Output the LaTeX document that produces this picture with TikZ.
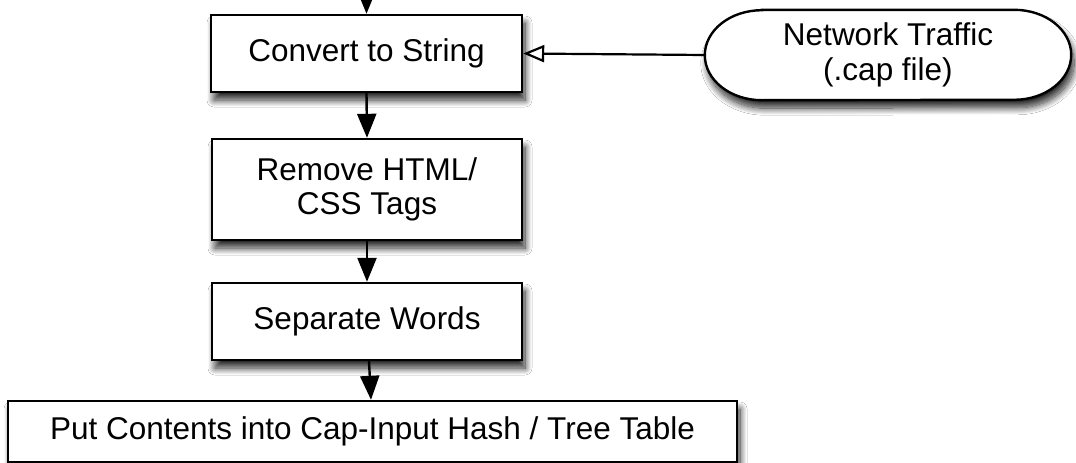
\documentclass[tikz,border=0pt]{standalone}
\usepackage{fontspec}
\setmainfont{Liberation Sans}
\usetikzlibrary{arrows.meta,shadows.blur}
\begin{document}
\begin{tikzpicture}[x=1pt,y=-1pt,
  shad/.style={blur shadow={shadow xshift=3pt, shadow yshift=-8pt, shadow blur radius=7pt, shadow blur steps=14, shadow opacity=85}},
  procbox/.style={draw=black, line width=2.4pt, fill=white, shad, inner sep=0pt, align=center,
    font=\fontsize{31.5}{34}\selectfont},
  flow/.style={draw=black, opacity=1, line width=2.4pt, -{Triangle[length=24pt,width=19pt,fill=black,color=black]}},
  openflow/.style={draw=black, opacity=1, line width=2.2pt, -{Triangle[open,length=21pt,width=17pt,fill=white]}}
]
\useasboundingbox (0,0) rectangle (1076,463);
\fill[white] (0,0) rectangle (1076,463);

\node[procbox, minimum width=311pt, minimum height=77pt] (conv) at (366.5,53.5) {Convert to String};
\node[procbox, minimum width=310pt, minimum height=101pt] (rem) at (367,189.5) {Remove HTML/\\CSS Tags};
\node[procbox, minimum width=310pt, minimum height=77pt] (sep) at (367,321.5) {Separate Words};
\node[procbox, minimum width=729pt, minimum height=61pt] (put) at (372.5,431.5) {Put Contents into Cap-Input Hash / Tree Table};

% Network Traffic terminal with elliptical ends
\node[inner sep=0pt, minimum width=366pt, minimum height=90pt] (net) at (888,55) {};
\path[draw=black, line width=2.4pt, fill=white, shad]
  ([xshift=57pt]net.north west) -- ([xshift=-57pt]net.north east)
  arc[start angle=90, end angle=-90, x radius=57pt, y radius=45pt]
  -- ([xshift=57pt]net.south west)
  arc[start angle=270, end angle=90, x radius=57pt, y radius=45pt] -- cycle;
\node[align=center, font=\fontsize{31.5}{35}\selectfont] (nettext) at (net.center) {Network Traffic\\(.cap file)};

\coordinate (top) at (366.5,0);
\draw[flow] (top) -- (conv.north);
\draw[flow] (conv.south) -- (rem.north);
\draw[flow] (rem.south) -- (sep.north);
\draw[flow] ([xshift=2pt]sep.south) -- ([xshift=-1.5pt]put.north);
\draw[openflow] (net.west) -- (conv.east);
\end{tikzpicture}
\end{document}
